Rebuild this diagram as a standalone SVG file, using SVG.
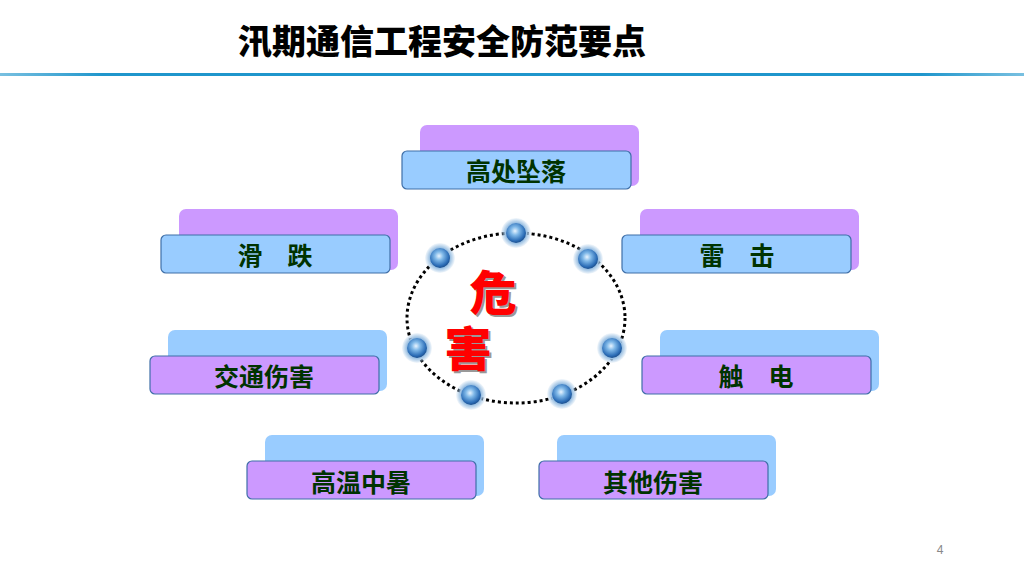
<svg xmlns="http://www.w3.org/2000/svg" width="1024" height="576" viewBox="0 0 1024 576">
<defs>
<linearGradient id="line" x1="0" y1="0" x2="1" y2="0">
<stop offset="0" stop-color="#1F96CC" stop-opacity="0.6"/>
<stop offset="0.1" stop-color="#1F96CC"/>
<stop offset="0.9" stop-color="#1F96CC"/>
<stop offset="1" stop-color="#1F96CC" stop-opacity="0.6"/>
</linearGradient>
<radialGradient id="ball" cx="0.45" cy="0.4" r="0.6">
<stop offset="0" stop-color="#E8F4FF"/>
<stop offset="0.35" stop-color="#7FB8E8"/>
<stop offset="0.8" stop-color="#2E6FB8"/>
<stop offset="1" stop-color="#1B4F8F"/>
</radialGradient>
<radialGradient id="halo" cx="0.5" cy="0.5" r="0.5">
<stop offset="0.7" stop-color="#9FC3E4"/>
<stop offset="1" stop-color="#9FC3E4" stop-opacity="0.1"/>
</radialGradient>
<g id="b">
<circle r="15" fill="url(#halo)"/>
<circle r="10" fill="url(#ball)"/>
</g>
</defs>
<style>
.title{font-family:"Noto Sans CJK SC","Noto Sans CJK JP",sans-serif;font-weight:900;font-size:34px;fill:#000}
.lbl{font-family:"Noto Sans CJK SC","Noto Sans CJK JP",sans-serif;font-weight:700;font-size:25px;fill:#003300;text-anchor:middle}
.pb{fill:#CC99FF}
.bb{fill:#99CCFF}
.fb{fill:#99CCFF;stroke:#3F6FA8;stroke-width:1.2}
.fp{fill:#CC99FF;stroke:#3F6FA8;stroke-width:1.2}
.big{font-family:"Noto Sans CJK SC","Noto Sans CJK JP",sans-serif;font-weight:900;font-size:47px;text-anchor:middle}
</style>
<rect width="1024" height="576" fill="#fff"/>
<text class="title" x="238" y="54">汛期通信工程安全防范要点</text>
<rect x="0" y="73" width="1024" height="3" fill="url(#line)"/>

<g id="n1">
<rect class="pb" x="420" y="125" width="219" height="61" rx="7"/>
<rect class="fb" x="402" y="151" width="229" height="38" rx="5"/>
<text class="lbl" x="516" y="181">高处坠落</text>
</g>
<g id="n2">
<rect class="pb" x="179" y="209" width="219" height="61" rx="7"/>
<rect class="fb" x="161" y="235" width="229" height="38" rx="5"/>
<text class="lbl" x="275" y="265">滑　跌</text>
</g>
<g id="n3">
<rect class="pb" x="640" y="209" width="219" height="61" rx="7"/>
<rect class="fb" x="622" y="235" width="229" height="38" rx="5"/>
<text class="lbl" x="737" y="265">雷　击</text>
</g>
<g id="n4">
<rect class="bb" x="168" y="330" width="219" height="61" rx="7"/>
<rect class="fp" x="150" y="356" width="229" height="38" rx="5"/>
<text class="lbl" x="264" y="386">交通伤害</text>
</g>
<g id="n5">
<rect class="bb" x="660" y="330" width="219" height="61" rx="7"/>
<rect class="fp" x="642" y="356" width="229" height="38" rx="5"/>
<text class="lbl" x="756" y="386">触　电</text>
</g>
<g id="n6">
<rect class="bb" x="265" y="435" width="219" height="61" rx="7"/>
<rect class="fp" x="247" y="461" width="229" height="38" rx="5"/>
<text class="lbl" x="361" y="492">高温中暑</text>
</g>
<g id="n7">
<rect class="bb" x="557" y="435" width="219" height="61" rx="7"/>
<rect class="fp" x="539" y="461" width="229" height="38" rx="5"/>
<text class="lbl" x="653" y="492">其他伤害</text>
</g>

<g id="center">
<ellipse cx="516" cy="318" rx="109" ry="85" fill="none" stroke="#000" stroke-width="3" stroke-dasharray="3 3"/>
<use href="#b" x="516" y="233"/>
<use href="#b" x="440" y="258"/>
<use href="#b" x="588" y="259"/>
<use href="#b" x="417" y="348"/>
<use href="#b" x="612" y="348"/>
<use href="#b" x="471" y="395"/>
<use href="#b" x="562" y="394"/>
<text class="big" x="495" y="312" fill="#999">危</text>
<text class="big" x="493" y="310" fill="#FF0000">危</text>
<text class="big" x="470" y="368" fill="#999">害</text>
<text class="big" x="468" y="366" fill="#FF0000">害</text>
</g>
<text x="940" y="554" font-family="Liberation Sans, sans-serif" font-size="12" fill="#888" text-anchor="middle">4</text>
</svg>
